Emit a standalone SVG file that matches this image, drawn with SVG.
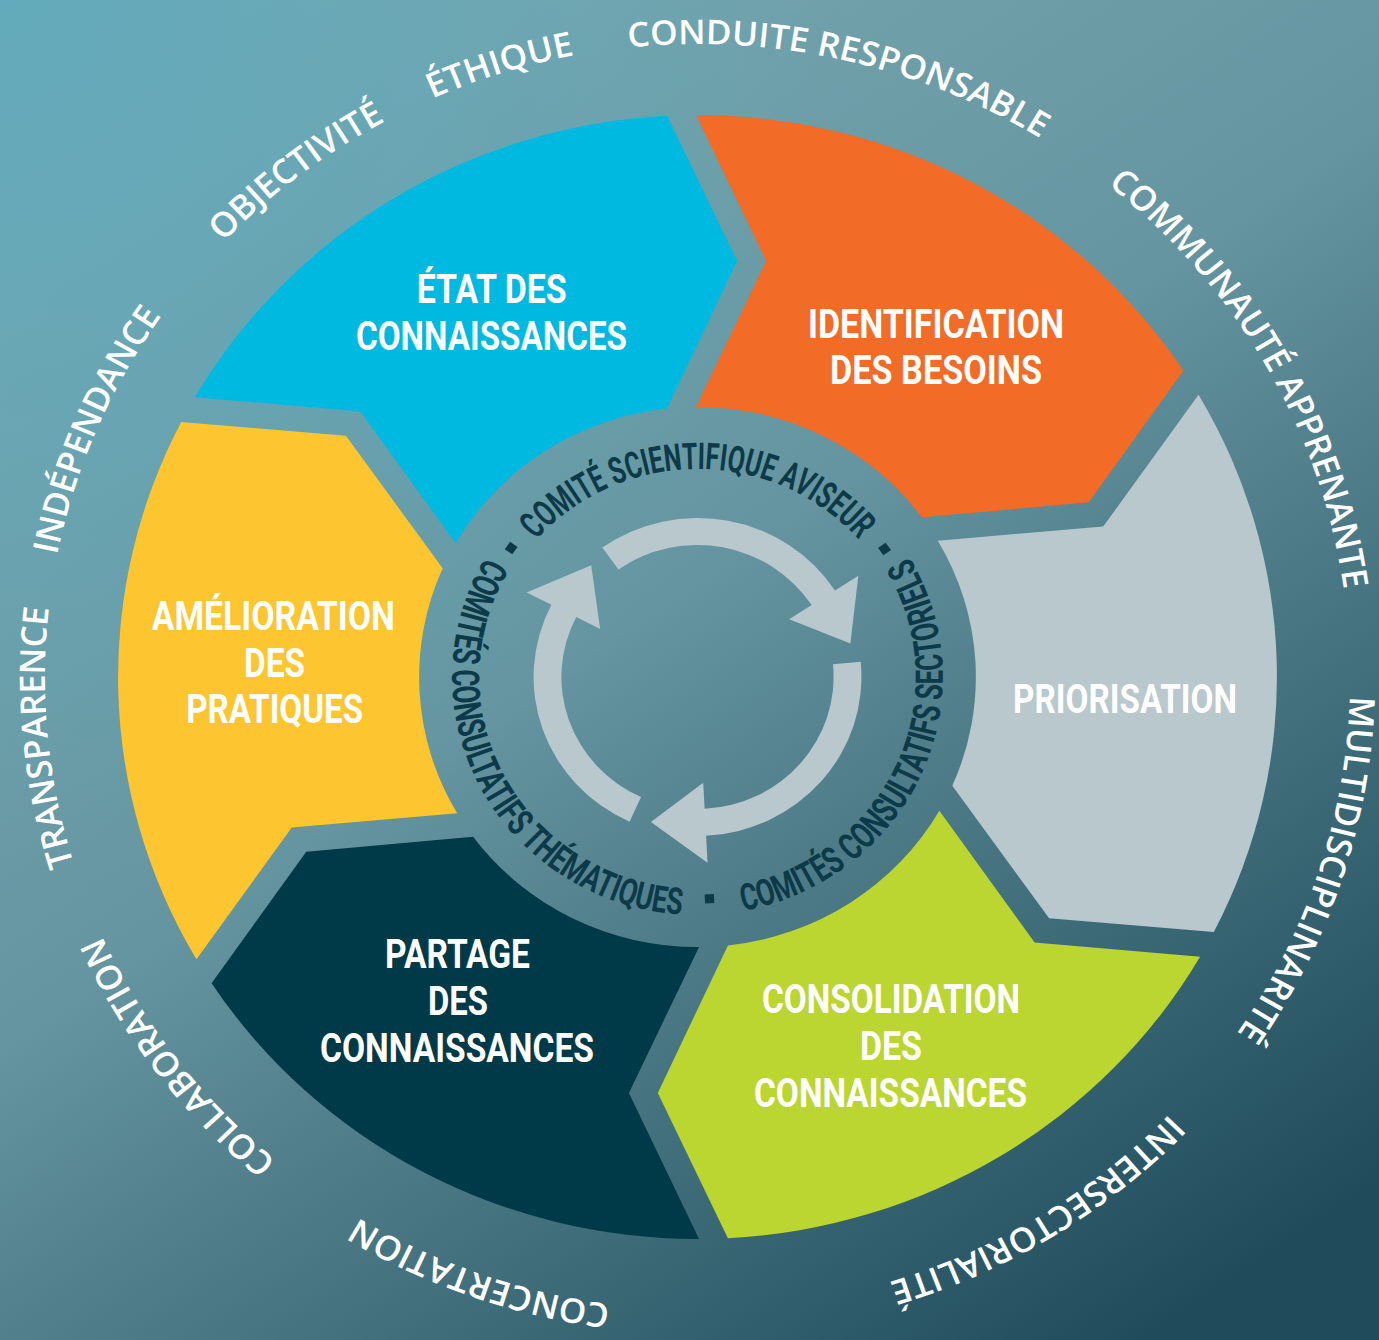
<svg xmlns="http://www.w3.org/2000/svg" xmlns:xlink="http://www.w3.org/1999/xlink" width="1379" height="1340" viewBox="0 0 1379 1340">
<defs>
<linearGradient id="bg" gradientUnits="userSpaceOnUse" x1="250" y1="0" x2="1150" y2="1340">
<stop offset="0" stop-color="#7AA9B0"/>
<stop offset="0.45" stop-color="#6595A0"/>
<stop offset="1" stop-color="#1F4B5A"/>
</linearGradient>
<radialGradient id="tint" gradientUnits="userSpaceOnUse" cx="0" cy="0" r="900">
<stop offset="0" stop-color="#58AAC0" stop-opacity="0.7"/>
<stop offset="1" stop-color="#58AAC0" stop-opacity="0"/>
</radialGradient>
<path id="outerPath" d="M0,-633 A633,633 0 1 1 0,633 A633,633 0 1 1 0,-633 A633,633 0 1 1 0,633 A633,633 0 1 1 0,-633"/>
<path id="innerTop" d="M0,-208 A208,208 0 1 1 0,208 A208,208 0 1 1 0,-208 A208,208 0 1 1 0,208 A208,208 0 1 1 0,-208"/>
<path id="innerCcw" d="M0,-238 A238,238 0 1 0 0,238 A238,238 0 1 0 0,-238 A238,238 0 1 0 0,238 A238,238 0 1 0 0,-238"/>
<path id="cyc" d="M-92.33,-129.45 A159,159 0 0 1 133.35,-86.60 L155.99,-101.30 L148.28,-33.42 L88.90,-57.73 L110.70,-71.89 A132,132 0 0 0 -76.65,-107.46 Z"/>
</defs>
<style>
.outer{font-family:'Open Sans','Liberation Sans',sans-serif;font-weight:600;font-size:34px;fill:#FFFFFF;}
.ring{font-family:Roboto,'Liberation Sans',sans-serif;font-weight:700;font-size:37px;fill:#0C3A48;}
.lbl{font-family:Roboto,'Liberation Sans',sans-serif;font-weight:700;font-size:40px;fill:#FFFFFF;text-anchor:middle;}
.sep{fill:#0C3A48;}
.cycle{fill:#B9C8CD;}
</style>
<rect width="1379" height="1340" fill="url(#bg)"/>
<rect width="1379" height="1340" fill="url(#tint)"/>
<g transform="translate(697.5 677) scale(1.031 1)">
<g id="segments">
<path id="seg-identification" fill="#F26B27" d="M-1.5,-562 A562,562 0 0 1 471.285,-306.16 L379.516,-174.658 L217.674,-159.738 A270,270 0 0 0 -1.5,-270 L66.5,-416 Z"/>
<path id="seg-priorisation" fill="#B9C8CD" d="M485.955,-282.298 A562,562 0 0 1 500.785,255.065 L341.016,241.342 L247.174,108.642 A270,270 0 0 0 233.073,-136.297 L393.516,-150.409 Z"/>
<path id="seg-consolidation" fill="#BBD531" d="M487.455,279.7 A562,562 0 0 1 29.5,561.225 L-38.5,416 L29.5,268.38 A270,270 0 0 0 234.573,133.699 L327.016,265.591 Z"/>
<path id="seg-partage" fill="#003A48" d="M1.5,562 A562,562 0 0 1 -471.285,306.161 L-379.516,174.658 L-217.674,159.738 A270,270 0 0 0 1.5,270 L-66.5,416 Z"/>
<path id="seg-amelioration" fill="#FDC52F" d="M-485.955,282.298 A562,562 0 0 1 -500.785,-255.065 L-341.016,-241.342 L-247.174,-108.642 A270,270 0 0 0 -233.073,136.297 L-393.516,150.409 Z"/>
<path id="seg-etat" fill="#00B9E1" d="M-487.455,-279.7 A562,562 0 0 1 -29.5,-561.225 L38.5,-416 L-29.5,-268.38 A270,270 0 0 0 -234.573,-133.699 L-327.016,-265.591 Z"/>
</g>
<g id="cycle-arrows" class="cycle">
<use xlink:href="#cyc"/>
<use xlink:href="#cyc" transform="rotate(120)"/>
<use xlink:href="#cyc" transform="rotate(240)"/>
</g>
<g id="ring-text">
<text class="ring" text-anchor="middle"><textPath xlink:href="#innerTop" startOffset="50%" textLength="354" lengthAdjust="spacingAndGlyphs">COMITÉ SCIENTIFIQUE AVISEUR</textPath></text>
<text class="ring" text-anchor="middle"><textPath xlink:href="#innerCcw" startOffset="16.39%" textLength="484" lengthAdjust="spacingAndGlyphs">COMITÉS CONSULTATIFS THÉMATIQUES</textPath></text>
<text class="ring" text-anchor="middle"><textPath xlink:href="#innerCcw" startOffset="34.10%" textLength="455" lengthAdjust="spacingAndGlyphs">COMITÉS CONSULTATIFS SECTORIELS</textPath></text>
<rect class="sep" x="-4.5" y="-226.5" width="9" height="9" transform="rotate(-54.5)"/>
<rect class="sep" x="-4.5" y="-226.5" width="9" height="9" transform="rotate(54.8)"/>
<rect class="sep" x="-4.5" y="-226.5" width="9" height="9" transform="rotate(177)"/>
</g>
<g id="values">
<text class="outer" text-anchor="middle"><textPath xlink:href="#outerPath" startOffset="44.78%">OBJECTIVITÉ</textPath></text>
<text class="outer" text-anchor="middle"><textPath xlink:href="#outerPath" startOffset="47.58%">ÉTHIQUE</textPath></text>
<text class="outer" text-anchor="middle"><textPath xlink:href="#outerPath" startOffset="51.78%">CONDUITE RESPONSABLE</textPath></text>
<text class="outer" text-anchor="middle"><textPath xlink:href="#outerPath" startOffset="58.40%">COMMUNAUTÉ APPRENANTE</textPath></text>
<text class="outer" text-anchor="middle"><textPath xlink:href="#outerPath" startOffset="65.00%">MULTIDISCIPLINARITÉ</textPath></text>
<text class="outer" text-anchor="middle"><textPath xlink:href="#outerPath" startOffset="70.60%">INTERSECTORIALITÉ</textPath></text>
<text class="outer" text-anchor="middle"><textPath xlink:href="#outerPath" startOffset="77.71%">CONCERTATION</textPath></text>
<text class="outer" text-anchor="middle"><textPath xlink:href="#outerPath" startOffset="82.36%">COLLABORATION</textPath></text>
<text class="outer" text-anchor="middle"><textPath xlink:href="#outerPath" startOffset="86.74%">TRANSPARENCE</textPath></text>
<text class="outer" text-anchor="middle"><textPath xlink:href="#outerPath" startOffset="90.69%">INDÉPENDANCE</textPath></text>
</g>
</g>
<g id="labels">
<g id="label-etat">
<text class="lbl" x="491.7" y="303" textLength="150" lengthAdjust="spacingAndGlyphs">ÉTAT DES</text>
<text class="lbl" x="491.5" y="350" textLength="271" lengthAdjust="spacingAndGlyphs">CONNAISSANCES</text>
</g>
<g id="label-identification">
<text class="lbl" x="936" y="338" textLength="256" lengthAdjust="spacingAndGlyphs">IDENTIFICATION</text>
<text class="lbl" x="936" y="384" textLength="212" lengthAdjust="spacingAndGlyphs">DES BESOINS</text>
</g>
<g id="label-priorisation">
<text class="lbl" x="1125" y="713" textLength="224" lengthAdjust="spacingAndGlyphs">PRIORISATION</text>
</g>
<g id="label-consolidation">
<text class="lbl" x="891" y="1013" textLength="258" lengthAdjust="spacingAndGlyphs">CONSOLIDATION</text>
<text class="lbl" x="891" y="1060" textLength="62" lengthAdjust="spacingAndGlyphs">DES</text>
<text class="lbl" x="890.5" y="1107" textLength="273" lengthAdjust="spacingAndGlyphs">CONNAISSANCES</text>
</g>
<g id="label-partage">
<text class="lbl" x="457.5" y="968" textLength="145" lengthAdjust="spacingAndGlyphs">PARTAGE</text>
<text class="lbl" x="458" y="1015" textLength="60" lengthAdjust="spacingAndGlyphs">DES</text>
<text class="lbl" x="457" y="1062" textLength="274" lengthAdjust="spacingAndGlyphs">CONNAISSANCES</text>
</g>
<g id="label-amelioration">
<text class="lbl" x="273.3" y="630" textLength="243" lengthAdjust="spacingAndGlyphs">AMÉLIORATION</text>
<text class="lbl" x="274.5" y="677" textLength="61" lengthAdjust="spacingAndGlyphs">DES</text>
<text class="lbl" x="274.7" y="723" textLength="177" lengthAdjust="spacingAndGlyphs">PRATIQUES</text>
</g>
</g>
</svg>
